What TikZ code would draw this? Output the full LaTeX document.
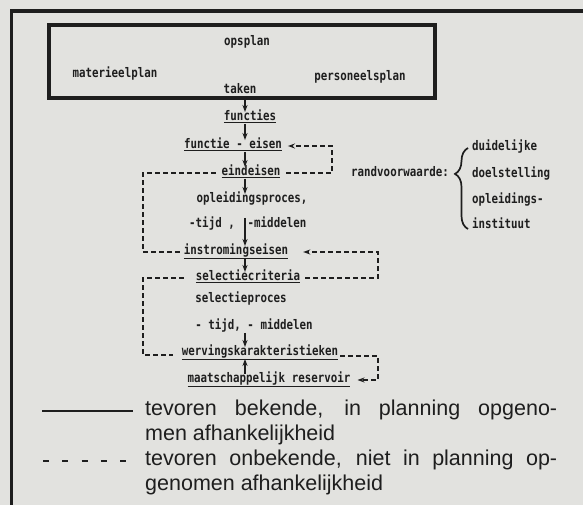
\documentclass[tikz,border=0pt]{standalone}
\usepackage{fontspec}
\setmainfont{Liberation Sans}
\newfontfamily\dmfont{DejaVu Sans Mono}
\usepackage{graphicx}
\usetikzlibrary{arrows.meta,decorations.pathreplacing,calc}
\definecolor{bgc}{RGB}{226,226,223}
\definecolor{ink}{RGB}{30,30,30}
\newcommand{\dm}[1]{\scalebox{0.9}[1.1]{#1}}
\newcommand{\ul}[1]{\leavevmode\vtop{\hbox{#1}\kern1.3pt\hrule height 0.9pt}}
\begin{document}
\begin{tikzpicture}[x=1pt,y=-1pt,
  lbl/.style={font=\dmfont\bfseries\fontsize{12}{12}\selectfont, text=ink, inner sep=1pt, text height=7pt, text depth=2.5pt},
  flow/.style={draw=ink, line width=1.1pt, -{Stealth[length=7pt,width=5pt]}},
  dep/.style={draw=ink, line width=1.1pt, dash pattern=on 5pt off 3pt},
  deparrow/.style={dep, -{Stealth[length=7pt,width=5pt]}},
  legtext/.style={font=\fontsize{21.5}{25}\selectfont, text=ink, inner sep=0pt, anchor=base west}]
\useasboundingbox (0,0) rectangle (583,505);
\fill[bgc] (0,0) rectangle (583,505);
% frames
\draw[ink, line width=3.5pt] (583,11) -- (11.3,11) -- (11.3,505);
\draw[ink, line width=4pt] (48.5,25.3) rectangle (434.5,98.3);
% plan texts
\node[lbl] (opsplan) at (247,43) {\dm{opsplan}};
\node[lbl] (materieel) at (115,75) {\dm{materieelplan}};
\node[lbl] (personeel) at (360,78) {\dm{personeelsplan}};
\node[lbl] (taken) at (240,91) {\dm{taken}};
% flow texts
\node[lbl] (functies) at (250,118) {\dm{\ul{functies}}};
\node[lbl] (fe) at (233,146) {\dm{\ul{functie - eisen}}};
\node[lbl] (eind) at (251,173) {\dm{\ul{eindeisen}}};
\node[lbl] (olp) at (252,200) {\dm{opleidingsproces,}};
\node[lbl] (tijdA) at (212,225) {\dm{-tijd ,}};
\node[lbl] (middA) at (277,225) {\dm{-middelen}};
\node[lbl] (instr) at (236,252) {\dm{\ul{instromingseisen}}};
\node[lbl] (selc) at (248,278) {\dm{\ul{selectiecriteria}}};
\node[lbl] (selp) at (241,300) {\dm{selectieproces}};
\node[lbl] (tijdB) at (254,327) {\dm{- tijd, - middelen}};
\node[lbl] (werv) at (260,353) {\dm{\ul{wervingskarakteristieken}}};
\node[lbl] (maat) at (269,380) {\dm{\ul{maatschappelijk reservoir}}};
% randvoorwaarde
\node[lbl] (rand) at (400,174) {\dm{randvoorwaarde:}};
\node[lbl, anchor=west] (duid) at (471,148) {\dm{duidelijke}};
\node[lbl, anchor=west] (doel) at (471,175) {\dm{doelstelling}};
\node[lbl, anchor=west] (opl) at (471,201) {\dm{opleidings-}};
\node[lbl, anchor=west] (inst) at (471,226) {\dm{instituut}};
\coordinate (brB) at (468,229);
\coordinate (brT) at (468,148);
\draw[ink, line width=1.7pt, decorate, decoration={brace, amplitude=13pt, aspect=0.68}] (brB) -- (brT);
% solid flow arrows
\coordinate (col) at (245,0);
\draw[flow] (taken.south -| col) -- (functies.north -| col);
\draw[flow] (functies.south -| col) -- (fe.north -| col);
\draw[flow] (fe.south -| col) -- (eind.north -| col);
\draw[flow] (eind.south -| col) -- (olp.north -| col);
\coordinate (olpStart) at ($(olp.south -| col)+(0,12)$);
\draw[flow] (olpStart) -- (instr.north -| col);
\draw[flow] (instr.south -| col) -- (selc.north -| col);
\draw[flow] (tijdB.south -| col) -- (werv.north -| col);
\draw[flow] (maat.north -| col) -- (werv.south -| col);
% dashed dependencies
\coordinate (rA) at (332,0);
\coordinate (rB) at (378,0);
\coordinate (lA) at (143,0);
\coordinate (wervL) at ($(werv.west)+(0,2)$);
\coordinate (wervR) at ($(werv.east)+(0,3)$);
\draw[deparrow, shorten <=5pt, shorten >=5pt] (eind.east) -- (eind.east -| rA) -- (fe.east -| rA) -- (fe.east);
\draw[dep, shorten <=5pt, shorten >=2pt] (eind.west) -- (eind.west -| lA) -- (instr.west -| lA) -- (instr.west);
\draw[deparrow, shorten <=4pt, shorten >=14pt] (selc.east) -- (selc.east -| rB) -- (instr.east -| rB) -- (instr.east);
\draw[dep, shorten <=11pt, shorten >=8pt] (selc.west) -- (selc.west -| lA) -- (wervL -| lA) -- (wervL);
\draw[deparrow, shorten <=1pt, shorten >=6pt] (wervR) -- (wervR -| rB) -- (maat.east -| rB) -- (maat.east);
% legend
\coordinate (ls1) at (42,411);
\coordinate (ls2) at (133,411);
\coordinate (ld1) at (43,461);
\coordinate (ld2) at (126,461);
\draw[ink, line width=1.5pt] (ls1) -- (ls2);
\draw[ink, line width=1.5pt, dash pattern=on 6pt off 13.25pt] (ld1) -- (ld2);
\node[legtext] (lg1) at (145,415) {\makebox[412pt][s]{tevoren bekende, in planning opgeno-}};
\node[legtext] (lg2) at (145,440.5) {men afhankelijkheid};
\node[legtext] (lg3) at (145,465) {\makebox[412pt][s]{tevoren onbekende, niet in planning op-}};
\node[legtext] (lg4) at (145,490) {genomen afhankelijkheid};
\end{tikzpicture}
\end{document}
